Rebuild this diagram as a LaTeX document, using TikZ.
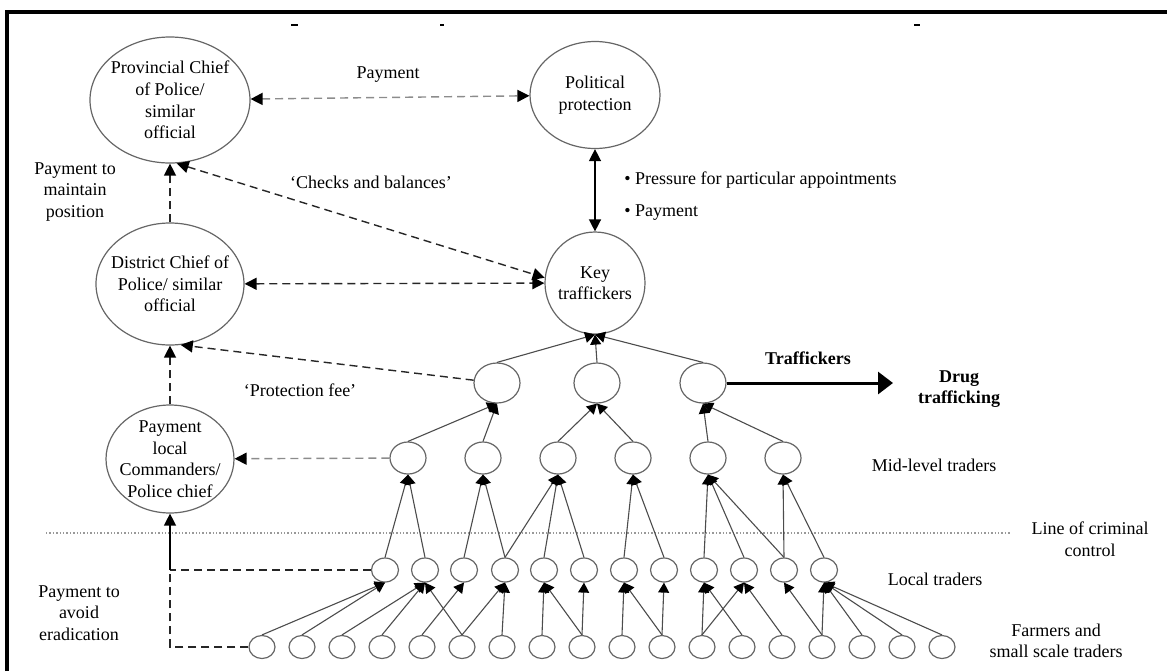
\documentclass[tikz,border=0pt]{standalone}
\usepackage{fontspec}
\setmainfont{Liberation Serif}
\usetikzlibrary{shapes.geometric,arrows.meta}
\begin{document}
\begin{tikzpicture}[x=0.5pt,y=-0.5pt]
\tikzstyle{bg} = [ellipse,draw=black!60,line width=0.6pt,inner sep=0pt] %big ellipse
\tikzstyle{ct} = [ellipse,draw=black!60,line width=0.6pt,inner sep=0pt] %small circle
\tikzstyle{tx} = [align=center,inner sep=0pt,font=\fontsize{9}{10.8}\selectfont] %label
\tikzstyle{ar} = [-{Triangle[length=5pt,width=5.5pt,black]},black!70,line width=0.55pt] %tree edge
\tikzstyle{dd} = [{Triangle[length=6pt,width=6pt,black]}-{Triangle[length=6pt,width=6pt,black]},black!85,line width=0.7pt,dash pattern=on 4pt off 2.5pt] %dark dashed both
\tikzstyle{gd} = [{Triangle[length=6pt,width=6pt,black]}-{Triangle[length=6pt,width=6pt,black]},black!45,line width=0.7pt,dash pattern=on 4pt off 2.5pt] %grey dashed both
\tikzstyle{da} = [-{Triangle[length=6pt,width=6pt,black]},black!85,line width=0.7pt,dash pattern=on 4pt off 2.5pt] %dark dashed
\tikzstyle{ga} = [-{Triangle[length=6pt,width=6pt,black]},black!45,line width=0.7pt,dash pattern=on 4pt off 2.5pt] %grey dashed
\tikzstyle{dk} = [black!85,line width=0.7pt,dash pattern=on 4pt off 2.5pt] %dashed, no tip
\tikzstyle{sd} = [{Triangle[length=6pt,width=6pt]}-{Triangle[length=6pt,width=6pt]},black,line width=0.7pt] %solid both
\tikzstyle{sa} = [-{Triangle[length=6pt,width=6pt]},black,line width=0.7pt] %solid
\tikzstyle{bigar} = [-{Triangle[length=7.5pt,width=11pt]},black,line width=1.5pt] %thick arrow
\tikzstyle{lc} = [black!40,line width=0.7pt,densely dotted] %control line
\useasboundingbox(0,0)rectangle(1167,671);
\draw[line width=2pt](7,671)--(7,12)--(1167,12);
\draw[line width=1pt](291,25)--(298,25);
\draw[line width=1pt](440,25)--(444,25);
\draw[line width=1pt](914,25)--(920,25);
% line of criminal control
\coordinate(lcl)at(46,533);
\coordinate(lcr)at(1011,533);
\draw[lc](lcl)--(lcr);
% officials
\node[bg,minimum width=80pt,minimum height=63pt](vprov)at(170,100){};
\node[tx](tprov)at(vprov){Provincial Chief\\of Police/\\similar\\official};
\node[bg,minimum width=65pt,minimum height=53.5pt](vpol)at(595,95){};
\node[tx](tpol)at(vpol){Political\\protection};
\node[bg,minimum width=74pt,minimum height=61pt](vdist)at(170,284){};
\node[tx](tdist)at(vdist){District Chief of\\Police/ similar\\official};
\node[bg,minimum width=50pt,minimum height=51pt](vkey)at(595,283){};
\node[tx](tkey)at(vkey){Key\\traffickers};
\node[bg,minimum width=64pt,minimum height=54pt](vcomm)at(170,459){};
\node[tx](tcomm)at(vcomm){Payment\\local\\Commanders/\\Police chief};
% traffickers
\node[ct,minimum width=23pt,minimum height=20pt](ta)at(497,383){};
\node[ct,minimum width=23pt,minimum height=20pt](tb)at(597,383){};
\node[ct,minimum width=23pt,minimum height=20pt](tc)at(703,383){};
% mid-level traders
\node[ct,minimum width=18pt,minimum height=16pt](ma)at(408,458){};
\node[ct,minimum width=18pt,minimum height=16pt](mb)at(483,458){};
\node[ct,minimum width=18pt,minimum height=16pt](mc)at(558,458){};
\node[ct,minimum width=18pt,minimum height=16pt](md)at(633,458){};
\node[ct,minimum width=18pt,minimum height=16pt](me)at(708,458){};
\node[ct,minimum width=18pt,minimum height=16pt](mf)at(783,458){};
% local traders
\node[ct,minimum width=13.5pt,minimum height=12pt](la)at(385,570){};
\node[ct,minimum width=13.5pt,minimum height=12pt](lb)at(425,570){};
\node[ct,minimum width=13.5pt,minimum height=12pt](lc)at(464,570){};
\node[ct,minimum width=13.5pt,minimum height=12pt](ld)at(505,570){};
\node[ct,minimum width=13.5pt,minimum height=12pt](le)at(544,570){};
\node[ct,minimum width=13.5pt,minimum height=12pt](lf)at(584,570){};
\node[ct,minimum width=13.5pt,minimum height=12pt](lg)at(624,570){};
\node[ct,minimum width=13.5pt,minimum height=12pt](lh)at(664,570){};
\node[ct,minimum width=13.5pt,minimum height=12pt](li)at(704,570){};
\node[ct,minimum width=13.5pt,minimum height=12pt](lj)at(744,570){};
\node[ct,minimum width=13.5pt,minimum height=12pt](lk)at(784,570){};
\node[ct,minimum width=13.5pt,minimum height=12pt](ll)at(824,570){};
% farmers
\node[ct,minimum width=13pt,minimum height=11.5pt](fa)at(262,647){};
\node[ct,minimum width=13pt,minimum height=11.5pt](fb)at(302,647){};
\node[ct,minimum width=13pt,minimum height=11.5pt](fc)at(342,647){};
\node[ct,minimum width=13pt,minimum height=11.5pt](fd)at(382,647){};
\node[ct,minimum width=13pt,minimum height=11.5pt](fe)at(422,647){};
\node[ct,minimum width=13pt,minimum height=11.5pt](ff)at(462,647){};
\node[ct,minimum width=13pt,minimum height=11.5pt](fg)at(502,647){};
\node[ct,minimum width=13pt,minimum height=11.5pt](fh)at(542,647){};
\node[ct,minimum width=13pt,minimum height=11.5pt](fi)at(582,647){};
\node[ct,minimum width=13pt,minimum height=11.5pt](fj)at(622,647){};
\node[ct,minimum width=13pt,minimum height=11.5pt](fk)at(662,647){};
\node[ct,minimum width=13pt,minimum height=11.5pt](fl)at(702,647){};
\node[ct,minimum width=13pt,minimum height=11.5pt](fm)at(742,647){};
\node[ct,minimum width=13pt,minimum height=11.5pt](fn)at(782,647){};
\node[ct,minimum width=13pt,minimum height=11.5pt](fo)at(822,647){};
\node[ct,minimum width=13pt,minimum height=11.5pt](fp)at(862,647){};
\node[ct,minimum width=13pt,minimum height=11.5pt](fq)at(902,647){};
\node[ct,minimum width=13pt,minimum height=11.5pt](fr)at(942,647){};
% labels
\node[tx](lpay)at(388,75){Payment};
\node[tx](lcheck)at(371,182){`Checks and balances'};
\node[tx,anchor=west](lpress)at(624,180){\textbullet\ Pressure for particular appointments};
\node[tx,anchor=west](lpay2)at(624,213){\textbullet\ Payment};
\node[tx](lmaint)at(75,192){Payment to\\maintain\\position};
\node[tx](lfee)at(300,390){`Protection fee'};
\node[tx](lavoid)at(79,613){Payment to\\avoid\\eradication};
\node[tx,font=\fontsize{9}{10.8}\selectfont\bfseries](ltraf)at(808,358){Traffickers};
\node[tx,font=\fontsize{9}{10.8}\selectfont\bfseries](ldrug)at(959,389){Drug\\trafficking};
\node[tx](lmid)at(934,465){Mid-level traders};
\node[tx](lline)at(1090,539){Line of criminal\\control};
\node[tx](llocal)at(935,579){Local traders};
\node[tx](lfarm)at(1056,641){Farmers and\\small scale traders};
% payments among officials
\draw[gd](vprov)--(vpol);
\draw[dd](vprov.-84)--(vkey.174);
\draw[dd](vdist)--(vkey);
\draw[da](vdist)--(vprov);
\draw[sd](vpol)--(vkey);
\draw[da](ta)--(vdist.-80);
\draw[da](vcomm)--(vdist);
\draw[ga](ma)--(vcomm);
\coordinate(jl)at(170,570);
\coordinate(jf)at(170,647);
\draw[dk](la)--(jl);
\draw[dk](fa)--(jf)--(jl);
\draw[sa](jl)--(vcomm);
\coordinate(drg)at(893,383);
\draw[bigar](tc)--(drg);
% traffickers to key traffickers
\draw[ar](ta.north)--(vkey.south);
\draw[ar](tb.north)--(vkey.south);
\draw[ar](tc.north)--(vkey.south);
% mid-level to traffickers
\draw[ar](ma.north)--(ta.south);
\draw[ar](mb.north)--(ta.south);
\draw[ar](mc.north)--(tb.south);
\draw[ar](md.north)--(tb.south);
\draw[ar](me.north)--(tc.south);
\draw[ar](mf.north)--(tc.south);
% local to mid-level
\draw[ar](la.north)--(ma.south);
\draw[ar](lb.north)--(ma.south);
\draw[ar](lc.north)--(mb.south);
\draw[ar](ld.north)--(mb.south);
\draw[ar](ld.north)--(mc.south);
\draw[ar](le.north)--(mc.south);
\draw[ar](lf.north)--(mc.south);
\draw[ar](lg.north)--(md.south);
\draw[ar](lh.north)--(md.south);
\draw[ar](li.north)--(me.south);
\draw[ar](lj.north)--(me.south);
\draw[ar](lk.north)--(me.south);
\draw[ar](lk.north)--(mf.south);
\draw[ar](ll.north)--(mf.south);
% farmers to local
\draw[ar](fa.north)--(la.south);
\draw[ar](fb.north)--(la.south);
\draw[ar](fc.north)--(lb.south);
\draw[ar](fd.north)--(lb.south);
\draw[ar](ff.north)--(lb.south);
\draw[ar](fe.north)--(lc.south);
\draw[ar](ff.north)--(ld.south);
\draw[ar](fg.north)--(ld.south);
\draw[ar](fh.north)--(le.south);
\draw[ar](fi.north)--(le.south);
\draw[ar](fi.north)--(lf.south);
\draw[ar](fj.north)--(lg.south);
\draw[ar](fk.north)--(lg.south);
\draw[ar](fk.north)--(lh.south);
\draw[ar](fl.north)--(li.south);
\draw[ar](fm.north)--(li.south);
\draw[ar](fl.north)--(lj.south);
\draw[ar](fn.north)--(lj.south);
\draw[ar](fo.north)--(lk.south);
\draw[ar](fo.north)--(ll.south);
\draw[ar](fp.north)--(ll.south);
\draw[ar](fq.north)--(ll.south);
\draw[ar](fr.north)--(ll.south);
\end{tikzpicture}
\end{document}
